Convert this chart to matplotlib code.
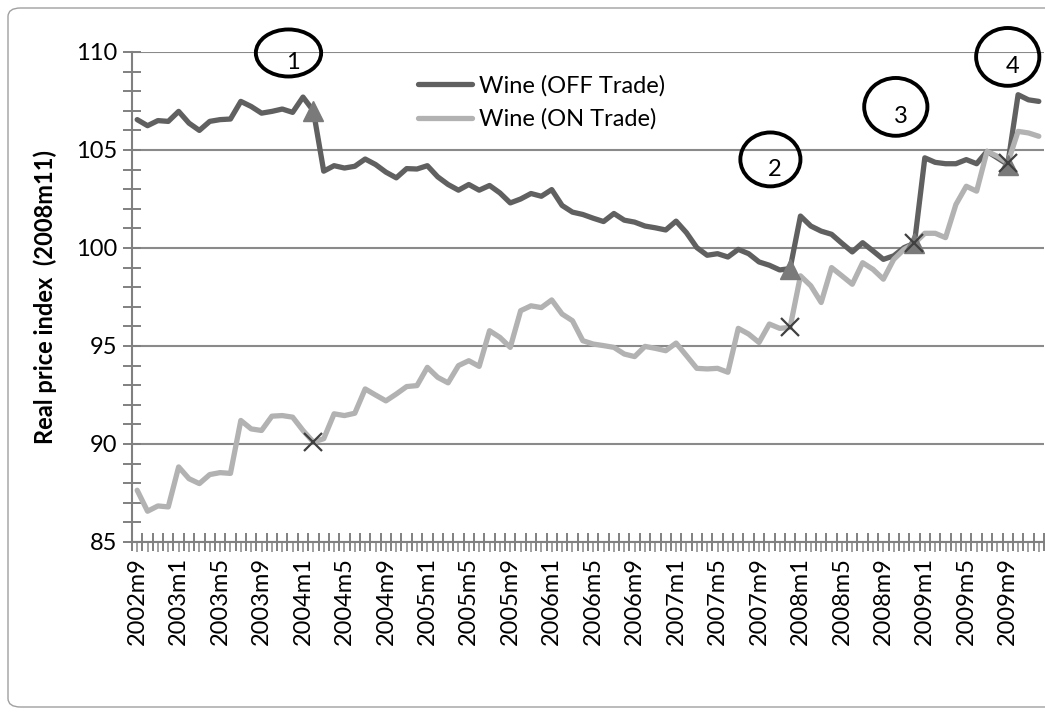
import matplotlib
matplotlib.use("Agg")
import matplotlib.pyplot as plt
from matplotlib.patches import Ellipse, FancyBboxPatch
from matplotlib.ticker import MultipleLocator, FixedLocator

# ---------------- data ----------------
months = [f"{2002 + (8 + i) // 12}m{(8 + i) % 12 + 1}" for i in range(88)]

off_trade = [106.55, 106.24, 106.5, 106.46, 106.97, 106.37, 106.0, 106.46, 106.55, 106.58,
             107.48, 107.22, 106.88, 106.97, 107.09, 106.92, 107.7, 107.0, 103.92, 104.2,
             104.08, 104.17, 104.54, 104.26, 103.87, 103.58, 104.05, 104.03, 104.2, 103.63,
             103.24, 102.95, 103.24, 102.95, 103.19, 102.81, 102.3, 102.5, 102.78, 102.64,
             102.98, 102.17, 101.83, 101.71, 101.52, 101.35, 101.76, 101.42, 101.32, 101.12,
             101.03, 100.92, 101.37, 100.78, 100.02, 99.63, 99.71, 99.54, 99.93, 99.71,
             99.29, 99.12, 98.88, 98.95, 101.63, 101.12, 100.86, 100.7, 100.24, 99.8,
             100.27, 99.85, 99.42, 99.6, 100.02, 100.24, 104.6, 104.37, 104.3, 104.3,
             104.51, 104.3, 104.93, 104.6, 104.26, 107.82, 107.56, 107.48]

on_trade = [87.64, 86.57, 86.84, 86.79, 88.83, 88.23, 87.98, 88.44, 88.54, 88.5,
            91.2, 90.77, 90.69, 91.42, 91.45, 91.37, 90.69, 90.1, 90.27, 91.54,
            91.45, 91.57, 92.81, 92.5, 92.2, 92.55, 92.93, 92.98, 93.91, 93.4,
            93.12, 94.0, 94.25, 93.96, 95.78, 95.44, 94.93, 96.8, 97.05, 96.96,
            97.35, 96.63, 96.29, 95.27, 95.1, 95.02, 94.93, 94.59, 94.46, 94.98,
            94.88, 94.76, 95.15, 94.51, 93.86, 93.83, 93.86, 93.66, 95.9, 95.61,
            95.18, 96.12, 95.9, 95.95, 98.58, 98.07, 97.22, 99.0, 98.58, 98.15,
            99.25, 98.91, 98.41, 99.42, 99.93, 100.24, 100.75, 100.75, 100.53, 102.22,
            103.15, 102.9, 104.93, 104.68, 104.34, 105.95, 105.87, 105.7]

event_months = ["2004m2", "2007m12", "2008m12", "2009m9"]
event_labels = ["1", "2", "3", "4"]

tick_labels = ["2002m9", "2003m1", "2003m5", "2003m9", "2004m1", "2004m5", "2004m9",
               "2005m1", "2005m5", "2005m9", "2006m1", "2006m5", "2006m9", "2007m1",
               "2007m5", "2007m9", "2008m1", "2008m5", "2008m9", "2009m1", "2009m5",
               "2009m9"]

series_names = ["Wine (OFF Trade)", "Wine (ON Trade)"]
y_label = "Real price index  (2008m11)"

# ---------------- styling ----------------
FONT = "Lato"
plt.rcParams["font.family"] = [FONT, "DejaVu Sans"]
FS = 17

W, H = 1045, 715
fig = plt.figure(figsize=(W / 100, H / 100), dpi=100)
ax = fig.add_axes([132 / W, 1 - 542 / H, (1044 - 132) / W, (542 - 52) / H])

x = list(range(len(months)))
event_idx = [months.index(m) for m in event_months]

ax.plot(x, off_trade, color="#606060", lw=3.8, solid_joinstyle="round",
        solid_capstyle="round", label=series_names[0], zorder=3)
ax.plot(x, on_trade, color="#b2b2b2", lw=3.8, solid_joinstyle="round",
        solid_capstyle="round", label=series_names[1], zorder=4)

# event markers
ax.plot(event_idx, [off_trade[i] for i in event_idx], ls="none", marker="^",
        ms=14, color="#7a7a7a", mec="#7a7a7a", zorder=5)
ax.plot(event_idx, [on_trade[i] for i in event_idx], ls="none", marker="x",
        ms=13, mew=1.6, color="#404040", zorder=6)

ax.set_xlim(-0.5, len(months) - 0.5)
ax.set_ylim(85, 110)

# y axis ticks
ax.yaxis.set_major_locator(MultipleLocator(5))
ax.yaxis.set_minor_locator(MultipleLocator(1))
ax.tick_params(axis="y", which="both", direction="inout", length=13, width=1.4,
               color="#808080", labelsize=FS, pad=4)
ax.grid(axis="y", which="major", color="#8a8a8a", lw=1.5)
ax.set_axisbelow(True)

# x axis ticks: labels at every 4th category, tick marks at every boundary
label_pos = [months.index(t) for t in tick_labels]
ax.xaxis.set_major_locator(FixedLocator(x))
ax.set_xticklabels([months[i] if i in label_pos else "" for i in x],
                   rotation=90, fontsize=FS)
ax.xaxis.set_minor_locator(FixedLocator([i - 0.5 for i in range(len(months) + 1)]))
ax.tick_params(axis="x", which="major", direction="out", length=7, width=1.4,
               color="#a0a0a0", pad=4)
ax.tick_params(axis="x", which="minor", direction="inout", length=13, width=1.4,
               color="#808080")

for s in ["top", "right"]:
    ax.spines[s].set_visible(False)
for s in ["left", "bottom"]:
    ax.spines[s].set_color("#808080")
    ax.spines[s].set_linewidth(1.5)

ax.set_ylabel(y_label, fontsize=FS, fontweight="bold")
ax.yaxis.set_label_coords(-0.082, 0.5)

leg = ax.legend(loc="upper left", bbox_to_anchor=(418 / W, 1 - 75 / H),
                bbox_transform=fig.transFigure, frameon=False, fontsize=FS,
                handlelength=2.3, handletextpad=0.3, labelspacing=0.5,
                borderpad=0, borderaxespad=0)

# event circles with numbers
circles = [(14.6, 109.95, 6.3, 2.4), (61.1, 104.52, 5.8, 2.75),
           (73.2, 107.2, 6.1, 2.95), (84.0, 109.75, 6.1, 2.95)]
label_offsets = (0.45, -0.5)
for (cx, cy, w, h), lab in zip(circles, event_labels):
    e = Ellipse((cx, cy), w, h, fill=False, ec="black", lw=2.8, clip_on=False, zorder=7)
    ax.add_patch(e)
    ax.text(cx + label_offsets[0], cy + label_offsets[1], lab, ha="center", va="center",
            fontsize=FS, color="black", clip_on=False, zorder=8)

# outer rounded border
border = FancyBboxPatch((8 / W, 8 / H), (W + 20) / W, (H - 16) / H,
                        boxstyle="round,pad=0,rounding_size=0.012",
                        transform=fig.transFigure, fill=False, ec="#a0a0a0", lw=1.0,
                        clip_on=False)
fig.patches.append(border)

fig.savefig("out.png", dpi=100)
